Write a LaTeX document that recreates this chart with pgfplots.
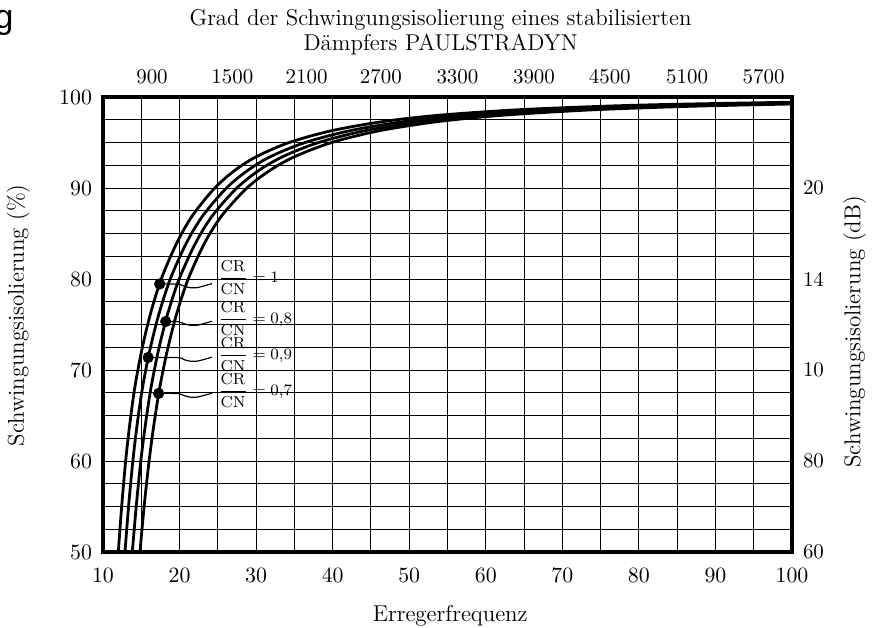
\documentclass[border=0pt]{standalone}
\usepackage{fontspec}
\newfontfamily\gfont{Liberation Sans}
\usepackage{pgfplots}
\pgfplotsset{compat=1.18}
\begin{document}
\begin{tikzpicture}
\begin{axis}[
  at={(0,0)}, anchor=south west,
  scale only axis, width=344.5bp, height=227.5bp,
  xmin=10, xmax=100, ymin=50, ymax=100,
  xtick={10,20,...,100}, minor xtick={15,25,...,95},
  ytick={50,60,...,100},
  minor ytick={52.5,55,57.5,62.5,65,67.5,72.5,75,77.5,82.5,85,87.5,92.5,95,97.5},
  grid=both,
  major grid style={black, line width=0.5pt},
  minor grid style={black, line width=0.5pt},
  major tick length=0pt, minor tick length=0pt,
  axis line style={line width=1.6pt},
  tick label style={font=\fontsize{10.5}{12}\selectfont},
  xticklabel style={yshift=-4.5bp},
  yticklabel style={xshift=-2bp},
  clip=false,
]
% CR/CN = 1
\addplot[black, line width=1.4pt, smooth, tension=0.5] coordinates {
(12.00,50) (12.44,55) (12.96,60) (13.49,64) (14.14,68) (15.02,72) (16.14,76) (17.61,80) (19.66,84) (21.71,87) (24.60,90) (27.32,92) (30.16,93.5) (34.32,95) (39.88,96.3) (46.56,97.3) (53.92,98) (64.25,98.6) (75.87,99) (84.75,99.2) (100,99.43)};
% CR/CN = 0,9
\addplot[black, line width=1.4pt, smooth, tension=0.5] coordinates {
(12.87,50) (13.34,55) (13.90,60) (14.46,64) (15.15,68) (16.07,72) (17.25,76) (18.79,80) (20.92,84) (23.08,87) (26.13,90) (29.01,92) (32.01,93.5) (36.41,95) (42.27,96.3) (49.34,97.3) (57.13,98) (68.08,98.6) (80.40,99) (89.80,99.2) (100,99.36)};
% CR/CN = 0,8
\addplot[black, line width=1.4pt, smooth, tension=0.5] coordinates {
(13.83,50) (14.34,55) (14.94,60) (15.54,64) (16.26,68) (17.20,72) (18.39,76) (19.95,80) (22.12,84) (24.33,87) (27.48,90) (30.48,92) (33.62,93.5) (38.17,95) (44.24,96.3) (51.60,97.3) (59.75,98) (71.20,98.6) (84.08,99) (100,99.30)};
% CR/CN = 0,7
\addplot[black, line width=1.4pt, smooth, tension=0.5] coordinates {
(14.83,50) (15.37,55) (16.02,60) (16.65,64) (17.40,68) (18.36,72) (19.56,76) (21.13,80) (23.30,84) (25.56,87) (28.80,90) (31.92,92) (35.18,93.5) (39.88,95) (46.13,96.3) (53.77,97.3) (62.26,98) (74.19,98.6) (87.61,99) (100,99.23)};
% leaders
\addplot[black, line width=0.6pt, smooth] coordinates {(17.41,79.46) (19.80,79.44) (20.58,79.22) (21.37,79.05) (22.28,79.05) (23.32,79.27) (24.24,79.49)};
\addplot[black, line width=0.6pt, smooth] coordinates {(18.19,75.33) (19.80,75.31) (20.58,75.09) (21.37,74.92) (22.28,74.92) (23.32,75.14) (24.24,75.36)};
\addplot[black, line width=0.6pt, smooth] coordinates {(15.90,71.38) (19.80,71.36) (20.58,71.14) (21.37,70.97) (22.28,70.97) (23.32,71.19) (24.24,71.41)};
\addplot[black, line width=0.6pt, smooth] coordinates {(17.27,67.43) (19.80,67.41) (20.58,67.19) (21.37,67.02) (22.28,67.02) (23.32,67.24) (24.24,67.46)};
% dots
\addplot[only marks, mark=*, mark size=2.6bp, black] coordinates {(17.41,79.46) (18.19,75.33) (15.90,71.38) (17.27,67.43)};
\node[anchor=west, inner sep=0pt, font=\footnotesize] at (axis cs:25.0,80.15) {$\displaystyle\frac{\mathrm{CR}}{\mathrm{CN}}=1$};
\node[anchor=west, inner sep=0pt, font=\footnotesize] at (axis cs:25.0,75.66) {$\displaystyle\frac{\mathrm{CR}}{\mathrm{CN}}=0{,}8$};
\node[anchor=west, inner sep=0pt, font=\footnotesize] at (axis cs:25.0,71.71) {$\displaystyle\frac{\mathrm{CR}}{\mathrm{CN}}=0{,}9$};
\node[anchor=west, inner sep=0pt, font=\footnotesize] at (axis cs:25.0,67.76) {$\displaystyle\frac{\mathrm{CR}}{\mathrm{CN}}=0{,}7$};
% labels
\node[rotate=90, font=\fontsize{11.5}{13}\selectfont] at (rel axis cs:-0.123,0.52) {Schwingungsisolierung (\%)};
\node[rotate=90, font=\fontsize{11.5}{13}\selectfont] at (rel axis cs:1.091,0.484) {Schwingungsisolierung (dB)};
\node[font=\fontsize{11.5}{13}\selectfont] at (rel axis cs:0.504,-0.14) {Erregerfrequenz};
\node[align=center, font=\fontsize{11.5}{12.5}\selectfont] at (rel axis cs:0.49,1.142) {Grad der Schwingungsisolierung eines stabilisierten\\D\"ampfers PAULSTRADYN};
\node[font=\gfont\fontsize{17}{19}\selectfont, inner sep=0pt] at (rel axis cs:-0.1437,1.163) {g};
\end{axis}
\begin{axis}[
  at={(0,0)}, anchor=south west,
  scale only axis, width=344.5bp, height=227.5bp,
  xmin=10, xmax=100, ymin=50, ymax=100,
  axis line style={draw=none},
  xticklabel pos=top, yticklabel pos=right,
  xtick={16.4,26.9,36.6,46.3,56.3,66.3,76.2,86.3,96.3},
  xticklabels={900,1500,2100,2700,3300,3900,4500,5100,5700},
  ytick={50,60,70,80,90},
  yticklabels={60,80,10,14,20},
  major tick length=0pt,
  tick label style={font=\fontsize{10.5}{12}\selectfont},
  xticklabel style={yshift=3bp},
  yticklabel style={xshift=2bp},
]
\end{axis}
\pgfresetboundingbox
\path[use as bounding box] (-51.5bp,-38bp) rectangle (385.5bp,276bp);
\end{tikzpicture}
\end{document}
